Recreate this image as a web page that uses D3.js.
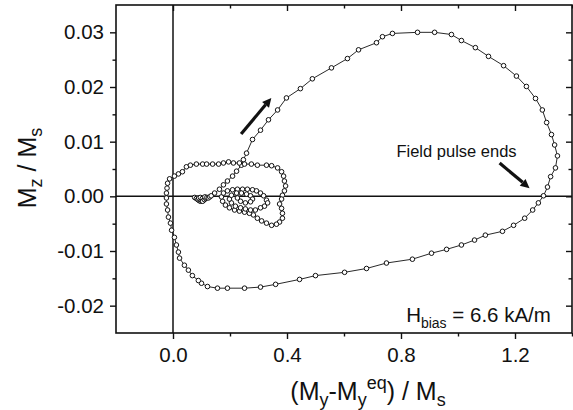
<!DOCTYPE html>
<html>
<head>
<meta charset="utf-8">
<script src="https://cdn.jsdelivr.net/npm/d3@7"></script>
<style>
  html, body { margin: 0; padding: 0; background: #fff; }
  svg { display: block; font-family: "Liberation Sans", Arial, Helvetica, sans-serif; }
</style>
</head>
<body>
<svg id="chart" width="573" height="410"></svg>
<script>
// Magnetization trajectory: (My - My_eq)/Ms on x, Mz/Ms on y, in time order
const trajX = [
  0.076, 0.082, 0.087, 0.092, 0.097, 0.101, 0.095, 0.090, 0.096, 0.103, 0.108, 0.104, 0.110, 0.115, 0.112, 0.119, 0.124, 0.129, 0.134,
  0.146, 0.163, 0.177, 0.191, 0.209, 0.223, 0.240, 0.247, 0.258, 0.279, 0.307, 0.335, 0.367, 0.398,
  0.447, 0.489, 0.556, 0.612, 0.651, 0.714, 0.735, 0.770, 0.858, 0.918, 0.977, 1.012, 1.061, 1.107,
  1.160, 1.205, 1.240, 1.272, 1.296, 1.311, 1.328, 1.339, 1.349, 1.342, 1.325, 1.314, 1.300,
  1.282, 1.262, 1.234, 1.195, 1.156, 1.096, 1.058, 1.012, 0.960, 0.907, 0.840, 0.749, 0.679, 0.602,
  0.500, 0.444, 0.360, 0.307, 0.251, 0.191, 0.156, 0.121, 0.100, 0.089, 0.068, 0.054, 0.040, 0.023,
  0.019, 0.012, 0.005, -0.005, -0.009, -0.016, -0.019, -0.023, -0.023, -0.023, -0.021, -0.019, -0.012,
  0.005, 0.019, 0.033, 0.047, 0.061, 0.082, 0.104, 0.118, 0.139, 0.160, 0.177, 0.195, 0.212, 0.233,
  0.251, 0.275, 0.296, 0.328, 0.346, 0.367, 0.381, 0.388, 0.391, 0.395, 0.391, 0.384, 0.381, 0.374,
  0.381, 0.384, 0.384, 0.374, 0.363, 0.346, 0.328, 0.311, 0.296, 0.282, 0.268, 0.251, 0.233, 0.216,
  0.198, 0.184, 0.174, 0.170, 0.177, 0.191, 0.209, 0.226, 0.244, 0.261, 0.279, 0.293, 0.307, 0.318,
  0.328, 0.332, 0.321, 0.307, 0.289, 0.272, 0.254, 0.237, 0.219, 0.205, 0.198, 0.205, 0.223, 0.240,
  0.258, 0.272, 0.279, 0.272, 0.254, 0.237, 0.226
];
const trajY = [
  -0.0002, -0.0004, -0.0006, -0.0008, -0.0009, -0.0008, -0.0005, -0.0003, -0.0002, -0.0004, -0.0007, -0.0009, -0.0006, -0.0004, -0.0001, -0.0002, -0.0003, -0.0001, 0.0001,
  0.0006, 0.0013, 0.0021, 0.0028, 0.0037, 0.0046, 0.0057, 0.0067, 0.0079, 0.0104, 0.0121, 0.0140, 0.0158, 0.0180,
  0.0197, 0.0215, 0.0235, 0.0252, 0.0268, 0.0281, 0.0292, 0.0298, 0.0300, 0.0300, 0.0296, 0.0285, 0.0272, 0.0256,
  0.0239, 0.0220, 0.0201, 0.0179, 0.0158, 0.0135, 0.0113, 0.0094, 0.0074, 0.0052, 0.0036, 0.0017, 0.0001,
  -0.0012, -0.0025, -0.0040, -0.0053, -0.0064, -0.0071, -0.0080, -0.0089, -0.0097, -0.0104, -0.0115, -0.0122, -0.0132, -0.0139,
  -0.0145, -0.0152, -0.0161, -0.0166, -0.0168, -0.0168, -0.0168, -0.0165, -0.0159, -0.0154, -0.0145, -0.0135, -0.0126, -0.0113,
  -0.0102, -0.0089, -0.0075, -0.0062, -0.0049, -0.0038, -0.0025, -0.0014, -0.0003, 0.0006, 0.0015, 0.0024, 0.0032,
  0.0037, 0.0041, 0.0045, 0.0054, 0.0057, 0.0059, 0.0059, 0.0059, 0.0059, 0.0059, 0.0061, 0.0063, 0.0061, 0.0061,
  0.0059, 0.0059, 0.0057, 0.0057, 0.0056, 0.0052, 0.0045, 0.0037, 0.0028, 0.0019, 0.0010, 0.0002, -0.0005, -0.0014,
  -0.0022, -0.0031, -0.0040, -0.0047, -0.0051, -0.0053, -0.0049, -0.0045, -0.0040, -0.0034, -0.0031, -0.0029, -0.0027, -0.0025,
  -0.0021, -0.0016, -0.0009, -0.0001, 0.0006, 0.0010, 0.0012, 0.0013, 0.0013, 0.0013, 0.0012, 0.0010, 0.0006, 0.0001,
  -0.0007, -0.0012, -0.0018, -0.0021, -0.0025, -0.0025, -0.0023, -0.0021, -0.0018, -0.0012, -0.0005, 0.0002, 0.0006, 0.0006,
  0.0004, 0.0001, -0.0005, -0.0010, -0.0012, -0.0009, -0.0003
];

const xTicks = [0.0, 0.4, 0.8, 1.2];
const xMinorTicks = [0.2, 0.6, 1.0, 1.4];
const yTicks = [-0.02, -0.01, 0.00, 0.01, 0.02, 0.03];
const yMinorTicks = [-0.015, -0.005, 0.005, 0.015, 0.025];

const xDomain = [-0.2, 1.4];
const yDomain = [-0.025, 0.035];

// Annotation anchors in data units: [tailX, tailY, tipX, tipY]
const motionArrow = [0.239, 0.0114, 0.345, 0.0180];
const pulseArrow = [1.146, 0.0061, 1.251, 0.0015];
const pulseLabel = { x: 0.784, y: 0.0072, text: "Field pulse ends" };
const biasLabel = { x: 0.818, y: -0.0230, value: " = 6.6 kA/m" };

const svg = d3.select("#chart");
const plotL = 116, plotR = 572, plotT = 5, plotB = 333;

const x = d3.scaleLinear().domain(xDomain).range([plotL, plotR]);
const y = d3.scaleLinear().domain(yDomain).range([plotB, plotT]);

const ink = "#111";

function styleAxis(g) {
  g.select(".domain").remove();
  g.selectAll(".tick line").attr("stroke", ink).attr("stroke-width", 1.4);
  g.selectAll(".tick text").attr("fill", ink).style("font-size", "20.5px")
    .style("font-family", '"Liberation Sans", Arial, Helvetica, sans-serif');
}

// bottom axis (labelled) + minor ticks
svg.append("g").attr("transform", `translate(0,${plotB})`)
  .call(d3.axisBottom(x).tickValues(xTicks).tickSize(6).tickPadding(8).tickFormat(d => d.toFixed(1)))
  .call(styleAxis);
svg.append("g").attr("transform", `translate(0,${plotB})`)
  .call(d3.axisBottom(x).tickValues(xMinorTicks).tickSize(3.5).tickFormat(""))
  .call(styleAxis);

// left axis (labelled) + minor ticks
svg.append("g").attr("transform", `translate(${plotL},0)`)
  .call(d3.axisLeft(y).tickValues(yTicks).tickSize(6).tickPadding(6).tickFormat(d => d.toFixed(2)))
  .call(styleAxis);
svg.append("g").attr("transform", `translate(${plotL},0)`)
  .call(d3.axisLeft(y).tickValues(yMinorTicks).tickSize(3.5).tickFormat(""))
  .call(styleAxis);

// mirrored inward ticks on top and right
svg.append("g").attr("transform", `translate(0,${plotT})`)
  .call(d3.axisTop(x).tickValues(xTicks).tickSize(-6).tickFormat(""))
  .call(styleAxis);
svg.append("g").attr("transform", `translate(0,${plotT})`)
  .call(d3.axisTop(x).tickValues(xMinorTicks).tickSize(-3.5).tickFormat(""))
  .call(styleAxis);
svg.append("g").attr("transform", `translate(${plotR},0)`)
  .call(d3.axisRight(y).tickValues(yTicks).tickSize(-6).tickFormat(""))
  .call(styleAxis);
svg.append("g").attr("transform", `translate(${plotR},0)`)
  .call(d3.axisRight(y).tickValues(yMinorTicks).tickSize(-3.5).tickFormat(""))
  .call(styleAxis);

// frame
svg.append("rect")
  .attr("x", plotL).attr("y", plotT)
  .attr("width", plotR - plotL).attr("height", plotB - plotT)
  .attr("fill", "none").attr("stroke", ink).attr("stroke-width", 1.6);

// zero lines
svg.append("line")
  .attr("x1", x(0)).attr("x2", x(0)).attr("y1", plotT).attr("y2", plotB)
  .attr("stroke", ink).attr("stroke-width", 1.5);
svg.append("line")
  .attr("x1", plotL).attr("x2", plotR).attr("y1", y(0)).attr("y2", y(0))
  .attr("stroke", ink).attr("stroke-width", 1.5);

// trajectory
const pts = trajX.map((v, i) => [v, trajY[i]]);
svg.append("path")
  .datum(pts)
  .attr("d", d3.line().x(d => x(d[0])).y(d => y(d[1])))
  .attr("fill", "none").attr("stroke", ink).attr("stroke-width", 0.9);
svg.append("g").selectAll("circle")
  .data(pts).join("circle")
  .attr("cx", d => x(d[0])).attr("cy", d => y(d[1]))
  .attr("r", 2.3)
  .attr("fill", "#fff").attr("stroke", ink).attr("stroke-width", 1.0);

// arrows
function arrow(a) {
  const x1 = x(a[0]), y1 = y(a[1]), x2 = x(a[2]), y2 = y(a[3]);
  const ang = Math.atan2(y2 - y1, x2 - x1);
  const hl = 9, hw = 4.5;
  const bx = x2 - hl * Math.cos(ang), by = y2 - hl * Math.sin(ang);
  svg.append("line")
    .attr("x1", x1).attr("y1", y1).attr("x2", bx).attr("y2", by)
    .attr("stroke", ink).attr("stroke-width", 3.2);
  const px = -Math.sin(ang), py = Math.cos(ang);
  svg.append("polygon")
    .attr("points", [[x2, y2], [bx + hw * px, by + hw * py], [bx - hw * px, by - hw * py]].map(p => p.join(",")).join(" "))
    .attr("fill", ink);
}
arrow(motionArrow);
arrow(pulseArrow);

// annotations
svg.append("text")
  .attr("x", x(pulseLabel.x)).attr("y", y(pulseLabel.y))
  .attr("fill", ink).style("font-size", "16.5px")
  .text(pulseLabel.text);

const bias = svg.append("text")
  .attr("x", x(biasLabel.x)).attr("y", y(biasLabel.y))
  .attr("fill", ink).style("font-size", "20.5px");
bias.append("tspan").text("H");
bias.append("tspan").attr("dy", 6).style("font-size", "14px").text("bias");
bias.append("tspan").attr("dy", -6).text(biasLabel.value);

// axis titles
const xt = svg.append("text")
  .attr("x", 368).attr("y", 400)
  .attr("text-anchor", "middle")
  .attr("fill", ink).style("font-size", "25px");
xt.append("tspan").text("(M");
xt.append("tspan").attr("dy", 6).style("font-size", "18px").text("y");
xt.append("tspan").attr("dy", -6).text("-M");
xt.append("tspan").attr("dy", 6).style("font-size", "18px").text("y");
xt.append("tspan").attr("dy", -17).style("font-size", "18px").text("eq");
xt.append("tspan").attr("dy", 11).text(") / M");
xt.append("tspan").attr("dy", 6).style("font-size", "18px").text("s");

const yt = svg.append("text")
  .attr("transform", "translate(36,168) rotate(-90)")
  .attr("text-anchor", "middle")
  .attr("fill", ink).style("font-size", "25px");
yt.append("tspan").text("M");
yt.append("tspan").attr("dy", 6).style("font-size", "18px").text("z");
yt.append("tspan").attr("dy", -6).text(" / M");
yt.append("tspan").attr("dy", 6).style("font-size", "18px").text("s");
</script>
</body>
</html>
